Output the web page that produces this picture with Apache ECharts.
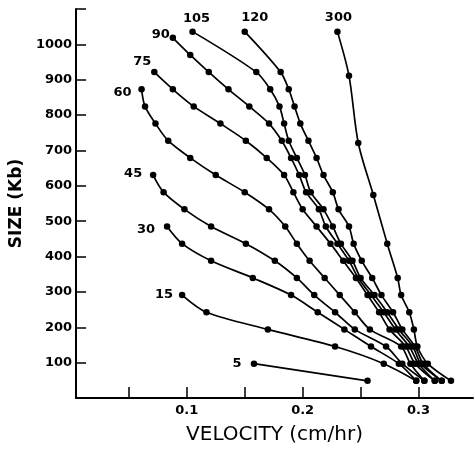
<!DOCTYPE html>
<html>
<head>
<meta charset="utf-8">
<script src="https://cdn.jsdelivr.net/npm/echarts@6/dist/echarts.min.js"></script>
<style>
  html, body { margin: 0; padding: 0; background: #fff; }
  #chart { width: 475px; height: 450px; }
</style>
</head>
<body>
<div id="chart"></div>
<script>
// curve names (pulse time) in drawing order
const pulseNames = ['5', '15', '30', '45', '60', '75', '90', '105', '120', '300'];

// points: [velocity (cm/hr), size (Kb)]
const c5 = [[0.158, 97], [0.256, 48.5]];
const c15 = [[0.096, 291], [0.117, 242.5], [0.170, 194], [0.228, 145.5], [0.270, 97], [0.298, 48.5]];
const c30 = [[0.083, 485], [0.096, 436.5], [0.121, 388], [0.157, 339.5], [0.190, 291], [0.213, 242.5],
  [0.236, 194], [0.259, 145.5], [0.283, 97], [0.298, 48.5]];
const c45 = [[0.071, 630.5], [0.080, 582], [0.098, 533.5], [0.121, 485], [0.151, 436.5], [0.176, 388],
  [0.195, 339.5], [0.210, 291], [0.228, 242.5], [0.245, 194], [0.272, 145.5], [0.286, 97], [0.305, 48.5]];
const c60 = [[0.061, 873], [0.064, 824.5], [0.073, 776], [0.084, 727.5], [0.103, 679], [0.125, 630.5],
  [0.150, 582], [0.171, 533.5], [0.185, 485], [0.195, 436.5], [0.206, 388], [0.219, 339.5], [0.232, 291],
  [0.245, 242.5], [0.258, 194], [0.285, 145.5], [0.293, 97], [0.305, 48.5]];
const c75 = [[0.072, 921.5], [0.088, 873], [0.106, 824.5], [0.129, 776], [0.151, 727.5], [0.169, 679],
  [0.184, 630.5], [0.192, 582], [0.200, 533.5], [0.212, 485], [0.224, 436.5], [0.235, 388], [0.246, 339.5],
  [0.256, 291], [0.266, 242.5], [0.275, 194], [0.289, 145.5], [0.297, 97], [0.314, 48.5]];
const c90 = [[0.088, 1018.5], [0.103, 970], [0.119, 921.5], [0.136, 873], [0.154, 824.5], [0.171, 776],
  [0.182, 727.5], [0.190, 679], [0.197, 630.5], [0.203, 582], [0.214, 533.5], [0.220, 485], [0.230, 436.5],
  [0.240, 388], [0.248, 339.5], [0.259, 291], [0.270, 242.5], [0.280, 194], [0.292, 145.5], [0.300, 97],
  [0.314, 48.5]];
const c105 = [[0.105, 1036], [0.160, 921.5], [0.172, 873], [0.180, 824.5], [0.184, 776], [0.188, 727.5],
  [0.195, 679], [0.202, 630.5], [0.207, 582], [0.218, 533.5], [0.226, 485], [0.233, 436.5], [0.243, 388],
  [0.250, 339.5], [0.262, 291], [0.273, 242.5], [0.283, 194], [0.295, 145.5], [0.302, 97], [0.320, 48.5]];
const c120 = [[0.150, 1036], [0.181, 921.5], [0.188, 873], [0.193, 824.5], [0.198, 776], [0.205, 727.5],
  [0.212, 679], [0.218, 630.5], [0.226, 582], [0.231, 533.5], [0.240, 485], [0.244, 436.5], [0.251, 388],
  [0.260, 339.5], [0.268, 291], [0.278, 242.5], [0.286, 194], [0.297, 145.5], [0.304, 97], [0.320, 48.5]];
const c300 = [[0.230, 1036], [0.240, 911], [0.248, 721], [0.261, 574], [0.273, 436.5], [0.282, 339.5],
  [0.285, 291], [0.292, 242.5], [0.296, 194], [0.299, 145.5], [0.308, 97], [0.328, 48.5]];

const curves = [c5, c15, c30, c45, c60, c75, c90, c105, c120, c300];

// axis ticks / labels
const xTicks = [0.05, 0.1, 0.15, 0.2, 0.25, 0.3];
const xLabels = [0.1, 0.2, 0.3];
const yTicks = [100, 200, 300, 400, 500, 600, 700, 800, 900, 1000, 1100];
const yLabels = [100, 200, 300, 400, 500, 600, 700, 800, 900, 1000];

// where each curve name sits relative to its first point (px)
const nameOffsets = {
  '5': [-17, 0], '15': [-18, 0], '30': [-21, 3], '45': [-20, -1], '60': [-19, 3],
  '75': [-12, -10], '90': [-12, -3], '105': [4, -13], '120': [10, -14], '300': [1, -14]
};

const font = 'DejaVu Sans';

var chart = echarts.init(document.getElementById('chart'));

var series = curves.map(function (pts, i) {
  var name = pulseNames[i];
  return {
    name: name,
    type: 'line',
    smooth: 0.3,
    symbol: 'circle',
    symbolSize: 6.5,
    showAllSymbol: true,
    lineStyle: { color: '#000', width: 1.7 },
    itemStyle: { color: '#000' },
    data: pts.map(function (p, j) {
      if (j === 0) {
        return {
          value: p,
          label: {
            show: true,
            formatter: name,
            position: 'inside',
            offset: nameOffsets[name],
            color: '#000',
            fontFamily: font,
            fontWeight: 'bold',
            fontSize: 13
          }
        };
      }
      return p;
    })
  };
});

var option = {
  animation: false,
  backgroundColor: '#fff',
  grid: { left: 73, right: 2, top: 9, bottom: 49, containLabel: false },
  xAxis: {
    type: 'value',
    min: 0.0045,
    max: 0.347,
    name: 'VELOCITY (cm/hr)',
    nameLocation: 'middle',
    nameGap: 27,
    nameTextStyle: { color: '#000', fontFamily: font, fontSize: 20 },
    axisLine: { show: true, onZero: false, lineStyle: { color: '#000', width: 2 } },
    axisTick: { show: true, inside: true, length: 11, customValues: xTicks, lineStyle: { color: '#000', width: 1.5 } },
    axisLabel: {
      customValues: xLabels, margin: 6, color: '#000', fontFamily: font, fontWeight: 'bold', fontSize: 13,
      formatter: function (v) { return String(v); }
    },
    splitLine: { show: false }
  },
  yAxis: {
    type: 'value',
    min: 0,
    max: 1100,
    name: 'SIZE (Kb)',
    nameLocation: 'middle',
    nameRotate: 90,
    nameGap: 41,
    nameTextStyle: { color: '#000', fontFamily: font, fontWeight: 'bold', fontSize: 17 },
    axisLine: { show: true, onZero: false, lineStyle: { color: '#000', width: 2 } },
    axisTick: { show: true, inside: true, length: 10, customValues: yTicks, lineStyle: { color: '#000', width: 1.5 } },
    axisLabel: {
      customValues: yLabels, margin: 4, color: '#000', fontFamily: font, fontWeight: 'bold', fontSize: 13,
      formatter: function (v) { return String(v); }
    },
    splitLine: { show: false }
  },
  series: series
};

chart.setOption(option);
</script>
</body>
</html>
